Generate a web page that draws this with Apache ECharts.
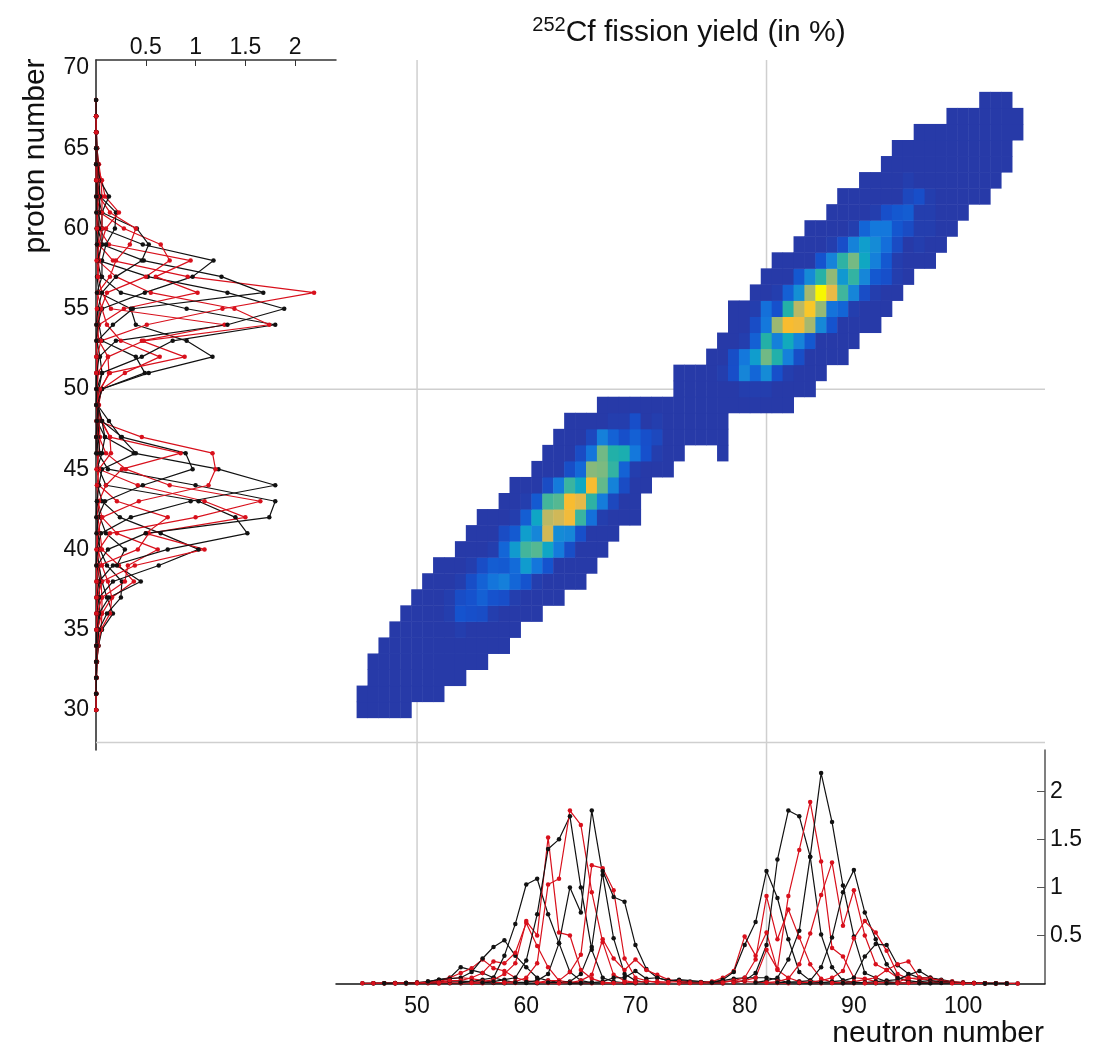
<!DOCTYPE html>
<html>
<head>
<meta charset="utf-8">
<style>
  html, body { margin: 0; padding: 0; background: #fff; }
  #main { width: 1112px; height: 1045px; }
</style>
<script src="https://cdn.jsdelivr.net/npm/echarts@6/dist/echarts.min.js"></script>
</head>
<body>
<div id="main"></div>
<script>
// proton number of each row, and the neutron number its first value belongs to
const protons = [30,31,32,33,34,35,36,37,38,39,40,41,42,43,44,45,46,47,48,49,50,51,52,53,54,55,56,57,58,59,60,61,62,63,64,65,66,67,68];
const firstNeutron = [45,45,46,46,47,48,49,50,51,52,54,55,56,58,59,61,62,63,64,67,74,74,77,78,79,79,81,82,83,85,86,88,89,91,93,94,96,99,102];

// yield in %, one row per proton number
const yields = [
  [.003,.003,.002,.002,.001],
  [.002,.003,.003,.003,.002,.002,.002,.001],
  [.002,.003,.003,.004,.005,.005,.004,.003,.002],
  [.002,.003,.004,.006,.008,.01,.01,.008,.006,.004,.002],
  [.002,.004,.006,.01,.015,.02,.025,.025,.02,.012,.006,.003],
  [.003,.005,.01,.015,.02,.05,.06,.05,.03,.012,.008,.004],
  [.004,.008,.02,.04,.06,.17,.14,.11,.06,.03,.012,.006,.003],
  [.005,.015,.03,.06,.11,.16,.25,.16,.13,.06,.03,.012,.006,.003],
  [.02,.04,.05,.06,.12,.26,.38,.45,.29,.17,.06,.03,.012,.006,.003],
  [.01,.03,.03,.06,.11,.23,.21,.32,.63,.39,.17,.03,.012,.006,.003],
  [.01,.02,.04,.06,.29,.62,1.03,1.09,.72,.42,.12,.03,.01,.004],
  [.01,.02,.04,.1,.21,.65,.5,1.52,.53,.5,.14,.05,.015,.005],
  [.01,.02,.04,.06,.24,.72,1.4,1.5,1.74,1,.35,.06,.02,.008,.003],
  [.01,.02,.06,.21,1.03,1.09,1.8,1.65,.95,.43,.09,.03,.01],
  [.01,.015,.03,.1,.42,1,.74,1.8,1.13,.47,.1,.03,.01],
  [.01,.03,.03,.12,.3,1.23,1.2,.97,.26,.06,.03,.01,.005],
  [.01,.01,.02,.1,.38,1.17,.9,.85,.4,.15,.06,.03,.04,null,null,null,.002],
  [.005,.01,.03,.09,.46,.26,.14,.25,.14,.09,.04,.02,.01,.006,.004,.002],
  [.004,.006,.01,.02,.06,.06,.13,.05,.06,.03,.03,.02,.015,.01,.01],
  [.004,.006,.01,.015,.02,.02,.015,.02,.012,.01,.015,.02,.03,.02,.015,.01,.005,.002],
  [.005,.008,.01,.015,.03,.05,.06,.06,.06,.04,.01,.006,.003],
  [.003,.005,.008,.02,.06,.13,.49,.29,.53,.14,.06,.02,.008,.003],
  [.01,.04,.12,.4,.64,1.17,.89,.46,.12,.03,.01,.005,.002],
  [.01,.03,.06,.25,.91,.46,.77,.48,.2,.05,.015,.006,.003],
  [.01,.03,.11,.4,1.29,1.8,1.74,1.32,.51,.17,.03,.015,.006,.003],
  [.01,.03,.06,.35,.15,.91,1.39,1.89,1.27,.37,.28,.06,.05,.02,.01],
  [.01,.03,.06,.25,.55,1.32,2.19,1.68,1.02,.49,.11,.06,.02,.01],
  [.01,.02,.05,.2,.52,.92,1.26,.6,.97,.5,.2,.14,.06,.02],
  [.01,.015,.02,.03,.17,.48,.95,1.18,.74,.46,.2,.06,.03,.015,.006],
  [.01,.015,.03,.06,.13,.47,.65,.53,.34,.1,.05,.06,.03,.01],
  [.005,.01,.02,.03,.06,.28,.41,.4,.19,.1,.06,.06,.03,.01],
  [.005,.01,.02,.04,.06,.14,.2,.23,.06,.06,.03,.01,.005],
  [.004,.006,.01,.02,.03,.04,.09,.13,.06,.04,.02,.01,.005,.002],
  [.003,.005,.008,.012,.06,.04,.05,.03,.02,.01,.006,.003,.002],
  [.003,.006,.01,.02,.03,.02,.012,.008,.005,.003,.002,.001],
  [.003,.004,.006,.008,.012,.008,.006,.005,.003,.002,.001],
  [.002,.003,.004,.005,.004,.003,.002,.002,.001,.001],
  [.002,.002,.002,.002,.001,.001,.001],
  [.001,.001,.001]
];

const neutronBands = [];
for (let n = 43; n <= 107; n++) neutronBands.push(String(n));
const protonBands = [];
for (let z = 28; z <= 70; z++) protonBands.push(String(z));

const protonTicks = [30, 35, 40, 45, 50, 55, 60, 65, 70];
const neutronTicks = [50, 60, 70, 80, 90, 100];
const yieldTicks = [0.5, 1, 1.5, 2];

// colour ramp: first list is 0 to 0.15 in steps of 0.05, second is 0.2 to 2.2 in steps of 0.1
const lowColors = ["#273aa8", "#273aa8", "#1a4cc4", "#1650cc"];
const highColors = ["#1458d0", "#1368d8", "#1478dc", "#1686d8", "#1198d0", "#0ea4c8", "#14acb8", "#22b0a8", "#3ab4a0", "#58b890", "#7cba80", "#a0b870", "#bcb864", "#d0b858", "#e0b850", "#ecba42", "#f8bc30", "#f8c828", "#f8d818", "#f8e80c", "#f8f800"];
const heatColors = lowColors.slice();
highColors.forEach((c, i) => {
  heatColors.push(c);
  if (i < highColors.length - 1) heatColors.push(echarts.color.lerp(0.5, [c, highColors[i + 1]]));
});

// magic numbers: neutron verticals and proton horizontals
const magicNeutrons = [50, 82];
const magicProtons = [50, 28];

const FONT = "Liberation Sans";
const RED = "#d8101c";
const BLACK = "#111111";
const GRID = "#cfcfcf";

// one flat list of cells, the three panels all read from it
const cells = [];
protons.forEach((z, i) => {
  yields[i].forEach((v, j) => {
    if (v !== null) cells.push([firstNeutron[i] + j, z, v]);
  });
});

let series = [];

// reference lines live on their own axes that span the whole figure
magicNeutrons.forEach(n => {
  series.push({
    type: "line", xAxisIndex: 0, yAxisIndex: 0, symbol: "none", silent: true, z: 1,
    lineStyle: { color: GRID, width: 1.5 },
    data: [[n, 70.5], [n, 13]]
  });
});
magicProtons.forEach(z => {
  series.push({
    type: "line", xAxisIndex: 0, yAxisIndex: 0, symbol: "none", silent: true, z: 1,
    lineStyle: { color: GRID, width: 1.5 },
    data: [[20.6, z], [107.5, z]]
  });
});

const heatIndex = series.length;
series.push({
  type: "heatmap", xAxisIndex: 1, yAxisIndex: 1, z: 2, silent: true,
  itemStyle: { borderWidth: 0 },
  data: cells.map(c => [String(c[0]), String(c[1]), c[2]])
});

// bottom panel, one line per proton number
protons.forEach(z => {
  const color = z % 2 === 0 ? BLACK : RED;
  series.push({
    type: "line", xAxisIndex: 2, yAxisIndex: 2, z: 3, silent: true,
    symbol: "circle", symbolSize: 4.5,
    lineStyle: { color: color, width: 1.2 }, itemStyle: { color: color },
    data: cells.filter(c => c[1] === z).map(c => [c[0], c[2]])
  });
});

// left panel, one line per neutron number
for (let n = 45; n <= 105; n++) {
  const color = n % 2 === 0 ? BLACK : RED;
  series.push({
    type: "line", xAxisIndex: 3, yAxisIndex: 3, z: 3, silent: true,
    symbol: "circle", symbolSize: 4.5,
    lineStyle: { color: color, width: 1.2 }, itemStyle: { color: color },
    data: cells.filter(c => c[0] === n).map(c => [c[2], c[1]])
  });
}

const tickLabel = { fontFamily: FONT, fontSize: 23, color: "#111" };

const option = {
  animation: false,
  backgroundColor: "#fff",
  title: {
    left: 684, top: 10, textAlign: "center",
    text: "{sup|252}{main|Cf fission yield (in %)}",
    textStyle: {
      fontWeight: "normal",
      rich: {
        sup: { fontFamily: FONT, fontSize: 20, fontWeight: "normal", color: "#111", verticalAlign: "top", lineHeight: 36 },
        main: { fontFamily: FONT, fontSize: 30, fontWeight: "normal", color: "#111", lineHeight: 36 }
      }
    }
  },
  graphic: [
    {
      type: "text", x: 36, y: 156, rotation: Math.PI / 2,
      style: { text: "proton number", font: "30px " + FONT, fill: "#111", align: "center", verticalAlign: "middle" }
    },
    {
      type: "text", x: 1044, y: 1034,
      style: { text: "neutron number", font: "30px " + FONT, fill: "#111", align: "right", verticalAlign: "middle" }
    }
  ],
  visualMap: {
    show: false, seriesIndex: heatIndex, dimension: 2, min: 0, max: 2.2,
    inRange: { color: heatColors }
  },
  grid: [
    { left: 96, top: 60, width: 949, height: 923.5 },
    { left: 335, top: 60, width: 710, height: 690 },
    { left: 336, top: 750, width: 709, height: 233.5 },
    { left: 96, top: 60, width: 240, height: 690 }
  ],
  xAxis: [
    { gridIndex: 0, type: "value", min: 20.6, max: 107.5, show: false },
    { gridIndex: 1, type: "category", data: neutronBands, show: false },
    {
      gridIndex: 2, type: "value", min: 42.58, max: 107.5,
      axisLine: { show: true, onZero: false, lineStyle: { color: BLACK, width: 1.5 } },
      axisTick: { show: false },
      splitLine: { show: false },
      axisLabel: Object.assign({ customValues: neutronTicks, margin: 12 }, tickLabel)
    },
    {
      gridIndex: 3, type: "value", position: "top", min: 0, max: 2.41,
      axisLine: { show: true, onZero: false, lineStyle: { color: "#333", width: 1.5 } },
      axisTick: { show: true, inside: true, length: 6, customValues: yieldTicks, lineStyle: { color: "#333" } },
      splitLine: { show: false },
      axisLabel: Object.assign({ customValues: yieldTicks, margin: 1 }, tickLabel)
    }
  ],
  yAxis: [
    { gridIndex: 0, type: "value", min: 13, max: 70.5, show: false },
    { gridIndex: 1, type: "category", data: protonBands, show: false },
    {
      gridIndex: 2, type: "value", position: "right", min: 0, max: 2.43,
      axisLine: { show: true, onZero: false, lineStyle: { color: "#555", width: 1.5 } },
      axisTick: { show: true, inside: true, length: 8, customValues: yieldTicks, lineStyle: { color: "#555" } },
      splitLine: { show: false },
      axisLabel: Object.assign({ customValues: yieldTicks, margin: 5, padding: [5, 0, 0, 0] }, tickLabel)
    },
    {
      gridIndex: 3, type: "value", min: 27.5, max: 70.5,
      axisLine: { show: true, onZero: false, lineStyle: { color: "#222", width: 1.5 } },
      axisTick: { show: false },
      splitLine: { show: false },
      axisLabel: Object.assign({ customValues: protonTicks, margin: 7, padding: [5, 0, 0, 0] }, tickLabel)
    }
  ],
  series: series
};

const chart = echarts.init(document.getElementById("main"));
chart.setOption(option);
</script>
</body>
</html>
